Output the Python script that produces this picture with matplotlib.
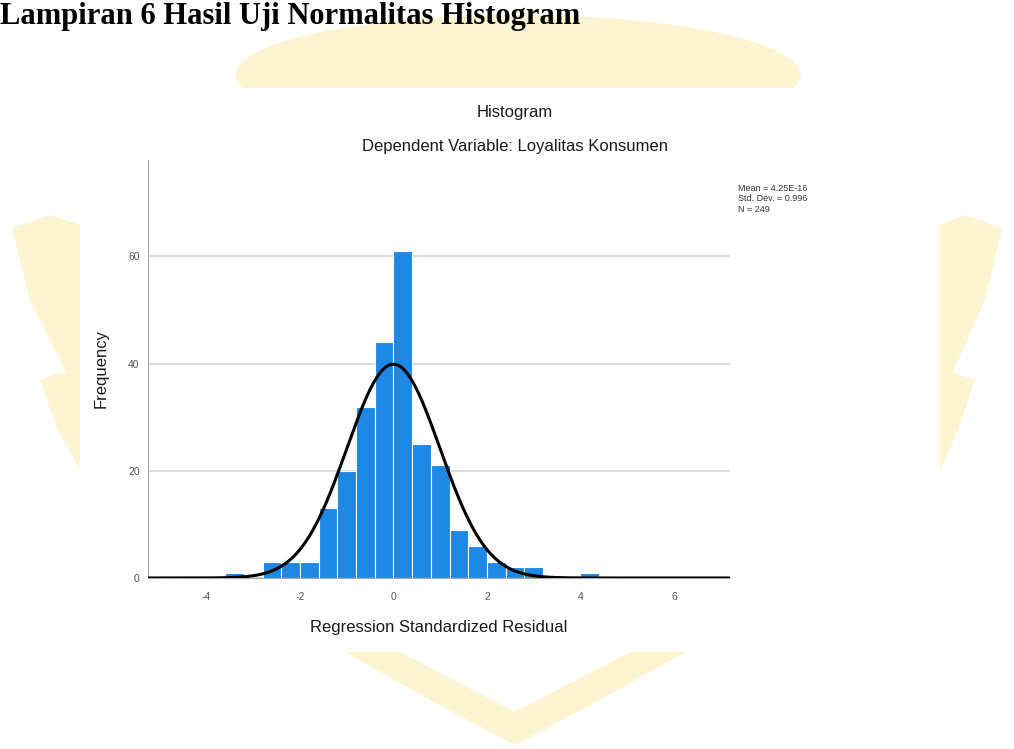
import numpy as np
import matplotlib
matplotlib.use("Agg")
import matplotlib.pyplot as plt
from matplotlib.patches import Polygon, Rectangle, Ellipse

# histogram data
bin_lefts = [-3.6, -3.2, -2.8, -2.4, -2.0, -1.6, -1.2, -0.8, -0.4, 0.0,
             0.4, 0.8, 1.2, 1.6, 2.0, 2.4, 2.8, 3.2, 3.6, 4.0]
counts = [1, 0, 3, 3, 3, 13, 20, 32, 44, 61,
          25, 21, 9, 6, 3, 2, 2, 0, 0, 1]
bin_width = 0.4
mean = 4.25e-16
std_dev = 0.996
n_obs = 249
x_ticks = [-4, -2, 0, 2, 4, 6]
y_ticks = [0, 20, 40, 60]

W, H = 1014, 749


def fx(px):
    return px / W


def fy(py):
    return 1 - py / H


plt.rcParams['font.family'] = ['Liberation Sans', 'DejaVu Sans']
plt.rcParams['axes.unicode_minus'] = False
fig = plt.figure(figsize=(W / 100, H / 100), dpi=100)

# faint yellow watermark behind the pasted chart
wm = '#fdf5d2'
fig.patches.append(Ellipse((fx(518), fy(75)), fx(565), 120 / H,
                           transform=fig.transFigure, facecolor=wm,
                           edgecolor='none', zorder=0))
shapes = [
    [(12, 228), (50, 215), (80, 225), (80, 400), (60, 360), (30, 300)],
    [(40, 380), (62, 372), (80, 380), (80, 470), (58, 430)],
    [(1002, 228), (964, 215), (940, 225), (940, 400), (958, 360), (985, 300)],
    [(975, 380), (952, 372), (940, 380), (940, 470), (958, 430)],
    [(345, 652), (685, 652), (600, 700), (515, 745), (430, 700)],
]
for s in shapes:
    fig.patches.append(Polygon([(fx(a), fy(b)) for a, b in s], closed=True,
                               transform=fig.transFigure, facecolor=wm,
                               edgecolor='none', zorder=0))
fig.patches.append(Polygon([(fx(a), fy(b)) for a, b in
                            [(400, 652), (630, 652), (515, 712)]],
                           closed=True, transform=fig.transFigure,
                           facecolor='white', edgecolor='none', zorder=0.5))
fig.patches.append(Rectangle((fx(80), fy(652)), fx(940) - fx(80), fy(88) - fy(652),
                             transform=fig.transFigure, facecolor='white',
                             edgecolor='none', zorder=1))

# document heading
fig.text(fx(0), fy(24), 'Lampiran 6 Hasil Uji Normalitas Histogram',
         family=['Liberation Serif', 'DejaVu Serif'], weight='bold', fontsize=22,
         va='baseline', ha='left', color='black')

ax = fig.add_axes([fx(148), fy(578), fx(730) - fx(148), fy(160) - fy(578)])
ax.set_zorder(2)
ax.patch.set_alpha(0)

ax.bar(bin_lefts, counts, width=bin_width, align='edge', color='#1e88e5',
       edgecolor='white', linewidth=0.8, zorder=2)

xs = np.linspace(-5.25, 7.2, 500)
curve = n_obs * bin_width * np.exp(-0.5 * ((xs - mean) / std_dev) ** 2) / (std_dev * np.sqrt(2 * np.pi))
ax.plot(xs, curve, color='black', lw=2.2, zorder=3)

ax.set_xlim(-5.25, 7.2)
ax.set_ylim(0, 78)
ax.set_xticks(x_ticks)
ax.set_yticks(y_ticks)
ax.yaxis.grid(True, color='#d4d4d4', lw=1.2)
ax.set_axisbelow(True)
for side in ['top', 'right']:
    ax.spines[side].set_visible(False)
ax.spines['left'].set_color('#a8a8a8')
ax.spines['bottom'].set_color('#a8a8a8')
ax.tick_params(length=0, labelsize=7.5, labelcolor='#555555')
ax.tick_params(axis='x', pad=10)
ax.tick_params(axis='y', pad=6)

ax.set_xlabel('Regression Standardized Residual', fontsize=12, color='#1a1a1a', labelpad=13)
ax.set_ylabel('Frequency', fontsize=12, color='#1a1a1a', labelpad=14)

fig.text(fx(515), fy(113), 'Histogram', fontsize=12, color='#1a1a1a',
         ha='center', va='center', zorder=3)
fig.text(fx(515), fy(146), 'Dependent Variable: Loyalitas Konsumen', fontsize=12,
         color='#1a1a1a', ha='center', va='center', zorder=3)
fig.text(fx(738), fy(184), 'Mean = 4.25E-16\nStd. Dev. = 0.996\nN = 249',
         fontsize=6.5, color='#333333', ha='left', va='top', linespacing=1.2, zorder=3)

fig.savefig('out.png', dpi=100)
